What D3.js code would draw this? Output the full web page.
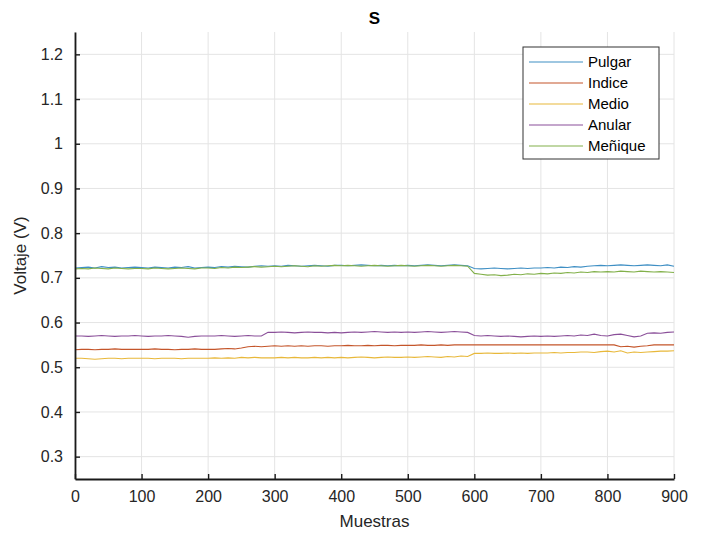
<!DOCTYPE html>
<html>
<head>
<meta charset="utf-8">
<script src="https://cdn.jsdelivr.net/npm/d3@7"></script>
<style>
  body { margin: 0; background: #fff; }
  svg { font-family: "Liberation Sans", Arial, sans-serif; }
</style>
</head>
<body>
<div id="chart"></div>
<script>
// samples every 10 points
var muestras = d3.range(0, 901, 10);

var pulgar = [
  0.722,0.723,0.724,0.722,0.725,0.723,0.724,0.722,0.723,0.724,
  0.723,0.722,0.724,0.723,0.722,0.724,0.723,0.725,0.722,0.723,
  0.724,0.723,0.725,0.724,0.726,0.725,0.724,0.726,0.727,0.726,
  0.727,0.726,0.728,0.727,0.726,0.727,0.728,0.727,0.726,0.728,
  0.728,0.727,0.728,0.729,0.728,0.727,0.728,0.727,0.728,0.727,
  0.728,0.727,0.728,0.729,0.728,0.727,0.728,0.729,0.728,0.727,
  0.721,0.720,0.721,0.722,0.721,0.720,0.721,0.722,0.721,0.722,
  0.722,0.723,0.722,0.724,0.723,0.725,0.724,0.726,0.727,0.728,
  0.727,0.728,0.729,0.728,0.727,0.728,0.729,0.728,0.727,0.729,
  0.726];

var indice = [
  0.539,0.540,0.540,0.539,0.540,0.540,0.541,0.540,0.540,0.540,
  0.540,0.540,0.541,0.540,0.540,0.539,0.540,0.540,0.541,0.540,
  0.540,0.540,0.541,0.542,0.541,0.543,0.546,0.547,0.546,0.547,
  0.548,0.547,0.548,0.547,0.548,0.547,0.548,0.548,0.547,0.548,
  0.548,0.549,0.548,0.548,0.549,0.548,0.549,0.549,0.548,0.549,
  0.549,0.549,0.550,0.549,0.549,0.550,0.549,0.550,0.550,0.550,
  0.550,0.550,0.550,0.550,0.550,0.550,0.550,0.550,0.550,0.550,
  0.550,0.550,0.550,0.550,0.550,0.550,0.550,0.550,0.550,0.550,
  0.550,0.550,0.546,0.547,0.545,0.547,0.548,0.550,0.550,0.550,
  0.550];

var medio = [
  0.520,0.520,0.519,0.518,0.519,0.520,0.520,0.519,0.520,0.520,
  0.520,0.520,0.519,0.520,0.520,0.520,0.519,0.520,0.520,0.520,
  0.520,0.521,0.520,0.521,0.520,0.522,0.521,0.522,0.521,0.521,
  0.521,0.522,0.521,0.522,0.521,0.521,0.522,0.521,0.522,0.521,
  0.522,0.521,0.522,0.523,0.522,0.521,0.522,0.523,0.522,0.522,
  0.523,0.522,0.523,0.524,0.523,0.522,0.524,0.523,0.525,0.524,
  0.531,0.531,0.532,0.531,0.531,0.532,0.531,0.532,0.531,0.532,
  0.532,0.532,0.533,0.532,0.533,0.533,0.534,0.534,0.533,0.535,
  0.536,0.534,0.537,0.532,0.534,0.533,0.534,0.535,0.536,0.536,
  0.537];

var anular = [
  0.570,0.570,0.569,0.570,0.571,0.570,0.569,0.570,0.570,0.571,
  0.570,0.569,0.570,0.570,0.571,0.570,0.569,0.567,0.569,0.570,
  0.570,0.570,0.571,0.570,0.569,0.570,0.571,0.570,0.570,0.578,
  0.578,0.579,0.578,0.577,0.578,0.579,0.578,0.578,0.577,0.578,
  0.577,0.578,0.579,0.578,0.579,0.580,0.579,0.578,0.579,0.578,
  0.579,0.578,0.579,0.580,0.579,0.578,0.579,0.580,0.579,0.578,
  0.571,0.570,0.571,0.570,0.569,0.570,0.569,0.568,0.569,0.570,
  0.569,0.570,0.569,0.570,0.571,0.570,0.572,0.571,0.574,0.571,
  0.570,0.573,0.574,0.571,0.568,0.570,0.576,0.577,0.576,0.578,
  0.579];

var menique = [
  0.720,0.721,0.720,0.722,0.721,0.720,0.722,0.721,0.720,0.721,
  0.721,0.720,0.722,0.721,0.720,0.721,0.722,0.721,0.720,0.722,
  0.722,0.721,0.723,0.722,0.724,0.723,0.724,0.725,0.724,0.725,
  0.726,0.725,0.726,0.727,0.726,0.725,0.727,0.726,0.727,0.728,
  0.727,0.728,0.727,0.726,0.727,0.728,0.727,0.726,0.727,0.728,
  0.727,0.726,0.727,0.728,0.727,0.726,0.727,0.728,0.727,0.726,
  0.710,0.708,0.706,0.707,0.705,0.706,0.708,0.707,0.709,0.708,
  0.710,0.709,0.711,0.710,0.712,0.711,0.713,0.712,0.714,0.713,
  0.714,0.713,0.715,0.714,0.713,0.715,0.714,0.713,0.714,0.713,
  0.712];

var nombres = ["Pulgar", "Indice", "Medio", "Anular", "Meñique"];
var series = [pulgar, indice, medio, anular, menique];
var colores = ["#3f8fc4", "#c4552a", "#e8b83a", "#8a4f99", "#82b04a"];

var xTicks = d3.range(0, 901, 100);
var yTicks = [0.3, 0.4, 0.5, 0.6, 0.7, 0.8, 0.9, 1, 1.1, 1.2];

var width = 704, height = 533;
var margin = { top: 32, right: 30, bottom: 54, left: 75 };
var w = width - margin.left - margin.right;
var h = height - margin.top - margin.bottom;

var svg = d3.select("#chart").append("svg")
  .attr("width", width)
  .attr("height", height);

var g = svg.append("g")
  .attr("transform", "translate(" + margin.left + "," + margin.top + ")");

var x = d3.scaleLinear().domain([0, 900]).range([0, w]);
var y = d3.scaleLinear().domain([0.25, 1.25]).range([h, 0]);

// grid
g.selectAll(".gx").data(xTicks).enter().append("line")
  .attr("x1", function (d) { return x(d); })
  .attr("x2", function (d) { return x(d); })
  .attr("y1", 0).attr("y2", h)
  .style("stroke", "#e4e4e4").style("stroke-width", 1);

g.selectAll(".gy").data(yTicks).enter().append("line")
  .attr("x1", 0).attr("x2", w)
  .attr("y1", function (d) { return y(d); })
  .attr("y2", function (d) { return y(d); })
  .style("stroke", "#e4e4e4").style("stroke-width", 1);

// lines
var line = d3.line()
  .x(function (d, i) { return x(muestras[i]); })
  .y(function (d) { return y(d); });

series.forEach(function (s, i) {
  g.append("path")
    .datum(s)
    .attr("d", line)
    .style("fill", "none")
    .style("stroke", colores[i])
    .style("stroke-width", 1.1);
});

// axes, ticks pointing inward like matlab
var xAxis = d3.axisBottom(x).tickValues(xTicks).tickSizeInner(-5).tickSizeOuter(0).tickPadding(12);
var yAxis = d3.axisLeft(y).tickValues(yTicks).tickSizeInner(-5).tickSizeOuter(0).tickPadding(12)
  .tickFormat(function (d) { return d3.format("~g")(d); });

var gx = g.append("g").attr("transform", "translate(0," + h + ")").call(xAxis);
var gy = g.append("g").call(yAxis);

[gx, gy].forEach(function (a) {
  a.selectAll("path").style("stroke", "#1a1a1a").style("stroke-width", 1.8);
  a.selectAll(".tick line").style("stroke", "#1a1a1a").style("stroke-width", 1.4);
  a.selectAll("text").style("font-size", "16px").style("fill", "#262626");
});

// title and labels
svg.append("text")
  .attr("x", margin.left + w / 2).attr("y", 24)
  .attr("text-anchor", "middle")
  .style("font-size", "17px").style("font-weight", "bold").style("fill", "#000")
  .text("S");

svg.append("text")
  .attr("x", margin.left + w / 2).attr("y", 527)
  .attr("text-anchor", "middle")
  .style("font-size", "17px").style("fill", "#262626")
  .text("Muestras");

svg.append("text")
  .attr("transform", "translate(26," + (margin.top + h / 2) + ") rotate(-90)")
  .attr("text-anchor", "middle")
  .style("font-size", "17px").style("fill", "#262626")
  .text("Voltaje (V)");

// legend
var leg = svg.append("g").attr("transform", "translate(523,47)");
leg.append("rect")
  .attr("width", 136).attr("height", 112)
  .style("fill", "#fff").style("stroke", "#333").style("stroke-width", 1);

var items = leg.selectAll(".item").data(nombres).enter().append("g")
  .attr("transform", function (d, i) { return "translate(0," + (15 + i * 21) + ")"; });

items.append("line")
  .attr("x1", 6).attr("x2", 60).attr("y1", 0).attr("y2", 0)
  .style("stroke", function (d, i) { return colores[i]; })
  .style("stroke-width", 1.1);

items.append("text")
  .attr("x", 65).attr("y", 5)
  .style("font-size", "15px").style("fill", "#000")
  .text(function (d) { return d; });
</script>
</body>
</html>
